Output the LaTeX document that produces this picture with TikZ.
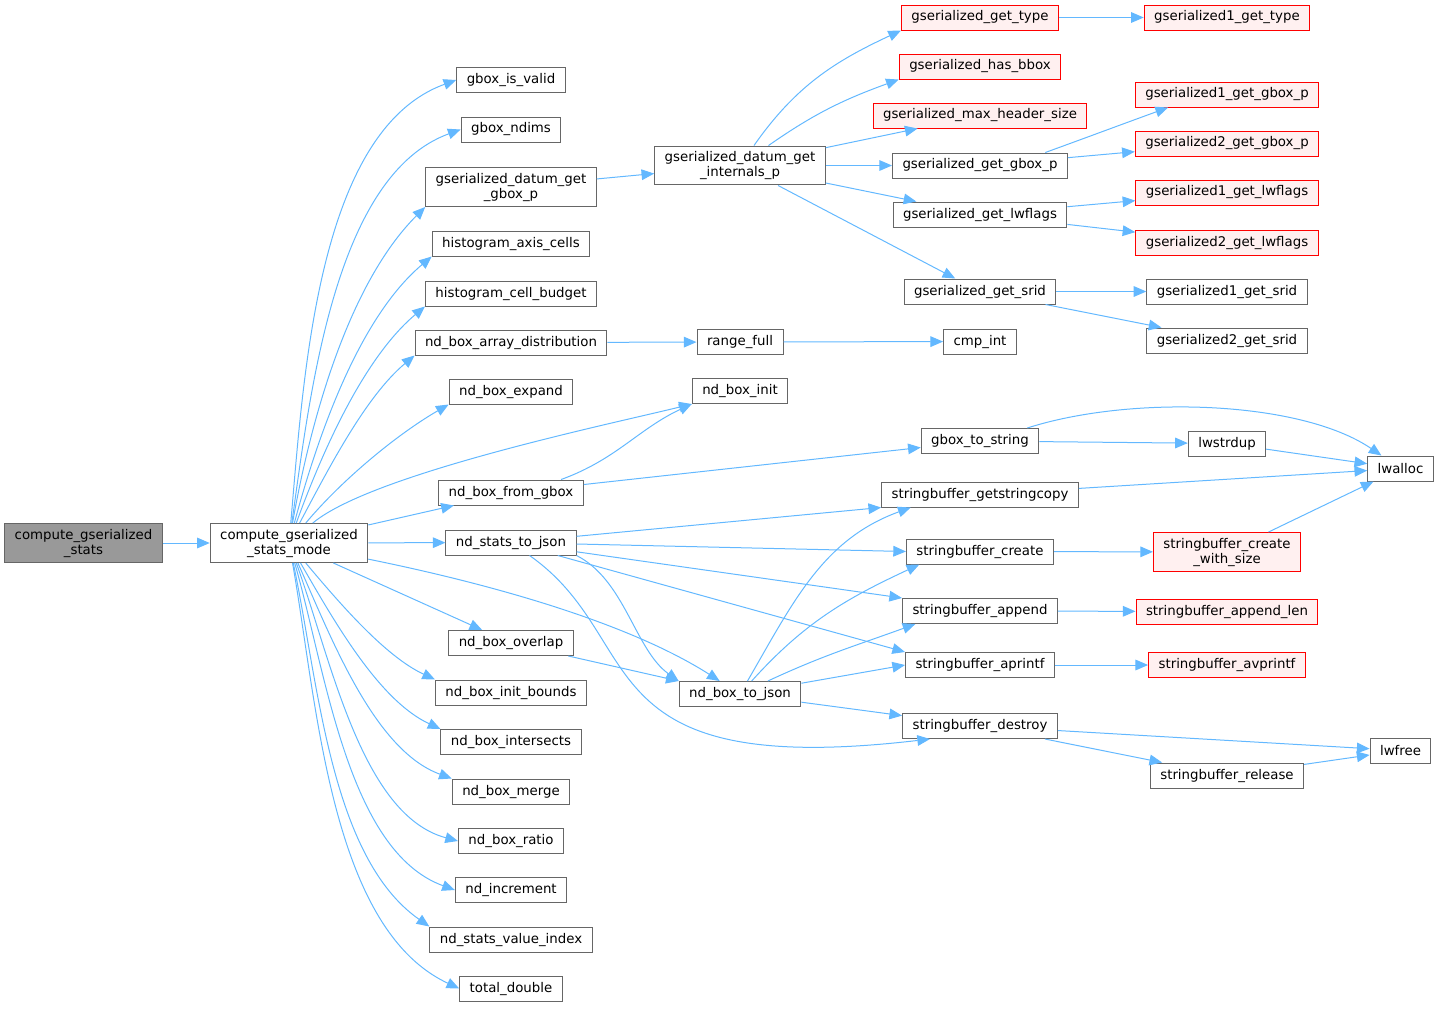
\documentclass[tikz,border=0pt]{standalone}
\usepackage{fontspec}
\setmainfont{DejaVu Sans}
\usepackage{xcolor}
\usepackage{tikz}
\usetikzlibrary{positioning, arrows.meta}

\definecolor{callblue}{HTML}{63B8FF}
\definecolor{boxgray}{HTML}{666666}
\definecolor{rootgray}{HTML}{999999}
\definecolor{missfill}{HTML}{FFF0F0}

\begin{document}
\begin{tikzpicture}[x=0.75pt, y=0.75pt,
    fn/.style={draw=boxgray, fill=white, line width=0.75pt, font=\fontsize{10}{11.25}\selectfont, align=center, inner xsep=7.5pt, inner ysep=4pt, minimum height=18.75pt},
    fnred/.style={fn, draw=red, fill=missfill},
    fnroot/.style={fn, fill=rootgray},
    call/.style={draw=callblue, line width=0.75pt, -{Triangle[length=9.5pt, width=8pt]}}]
          \useasboundingbox (0, 0) rectangle (1440, -1008);

          \node[fnroot] (root) at (83.5, -543) {compute\_gserialized\\\_stats};
          \node[fn] (mode) at (289, -543) {compute\_gserialized\\\_stats\_mode};

          \node[fn] (valid) at (511, -80) {gbox\_is\_valid};
          \node[fn] (ndims) at (511, -129.5) {gbox\_ndims};
          \node[fn] (datumgbox) at (511, -187) {gserialized\_datum\_get\\\_gbox\_p};
          \node[fn] (axiscells) at (511, -243.5) {histogram\_axis\_cells};
          \node[fn] (cellbudget) at (511, -293.5) {histogram\_cell\_budget};
          \node[fn] (arraydist) at (511, -342.5) {nd\_box\_array\_distribution};
          \node[fn] (expand) at (511, -391.5) {nd\_box\_expand};
          \node[fn] (fromgbox) at (511, -492.5) {nd\_box\_from\_gbox};
          \node[fn] (tojson) at (511, -542.5) {nd\_stats\_to\_json};
          \node[fn] (overlap) at (511, -643) {nd\_box\_overlap};
          \node[fn] (initbounds) at (511, -692.5) {nd\_box\_init\_bounds};
          \node[fn] (intersects) at (511, -742) {nd\_box\_intersects};
          \node[fn] (merge) at (511, -791.5) {nd\_box\_merge};
          \node[fn] (ratio) at (511, -841) {nd\_box\_ratio};
          \node[fn] (increment) at (511, -890) {nd\_increment};
          \node[fn] (valueindex) at (511, -939.5) {nd\_stats\_value\_index};
          \node[fn] (totaldouble) at (511, -988.5) {total\_double};

          \node[fn] (internals) at (740, -165.5) {gserialized\_datum\_get\\\_internals\_p};
          \node[fn] (rangefull) at (740, -342) {range\_full};
          \node[fn] (boxinit) at (740, -391) {nd\_box\_init};
          \node[fn] (boxtojson) at (740, -694) {nd\_box\_to\_json};

          \node[fnred] (gettype) at (980, -17.5) {gserialized\_get\_type};
          \node[fnred] (hasbbox) at (980, -66.5) {gserialized\_has\_bbox};
          \node[fnred] (maxheader) at (980, -115.5) {gserialized\_max\_header\_size};
          \node[fn] (getgbox) at (980, -165.5) {gserialized\_get\_gbox\_p};
          \node[fn] (getlwflags) at (980, -214.5) {gserialized\_get\_lwflags};
          \node[fn] (getsrid) at (980, -291.5) {gserialized\_get\_srid};
          \node[fn] (cmpint) at (980, -341.5) {cmp\_int};
          \node[fn] (tostring) at (980, -441) {gbox\_to\_string};
          \node[fn] (stringcopy) at (980, -494.5) {stringbuffer\_getstringcopy};
          \node[fn] (sbcreate) at (980, -551.5) {stringbuffer\_create};
          \node[fn] (sbappend) at (980, -611) {stringbuffer\_append};
          \node[fn] (sbaprintf) at (980, -665) {stringbuffer\_aprintf};
          \node[fn] (sbdestroy) at (980, -726) {stringbuffer\_destroy};

          \node[fnred] (g1type) at (1227, -17.5) {gserialized1\_get\_type};
          \node[fnred] (g1gbox) at (1227, -94.5) {gserialized1\_get\_gbox\_p};
          \node[fnred] (g2gbox) at (1227, -143.5) {gserialized2\_get\_gbox\_p};
          \node[fnred] (g1lwflags) at (1227, -192.5) {gserialized1\_get\_lwflags};
          \node[fnred] (g2lwflags) at (1227, -242.5) {gserialized2\_get\_lwflags};
          \node[fn] (g1srid) at (1227, -291.5) {gserialized1\_get\_srid};
          \node[fn] (g2srid) at (1227, -340.5) {gserialized2\_get\_srid};
          \node[fn] (lwstrdup) at (1227, -443.5) {lwstrdup};
          \node[fnred] (withsize) at (1227, -552) {stringbuffer\_create\\\_with\_size};
          \node[fnred] (appendlen) at (1227, -611.5) {stringbuffer\_append\_len};
          \node[fnred] (avprintf) at (1227, -665) {stringbuffer\_avprintf};
          \node[fn] (sbrelease) at (1227, -775.5) {stringbuffer\_release};

          \node[fn] (lwalloc) at (1400.5, -468.5) {lwalloc};
          \node[fn] (lwfree) at (1400.5, -750.5) {lwfree};

          \draw[call] (root) -- (mode);

          % calls made by compute_gserialized_stats_mode
          \draw[call] (mode) to[out=85, in=200, looseness=0.8] (valid.west);
          \draw[call] (mode) to[out=82, in=200, looseness=0.8] (ndims.west);
          \draw[call] (mode) to[out=80, in=225, looseness=0.8] (datumgbox.south west);
          \draw[call] (mode) to[out=75, in=220, looseness=0.8] (axiscells.south west);
          \draw[call] (mode) to[out=70, in=220, looseness=0.8] (cellbudget.south west);
          \draw[call] (mode) to[out=62, in=220, looseness=0.8] (arraydist.south west);
          \draw[call] (mode) to[out=50, in=210, looseness=0.8] (expand.south west);
          \draw[call] (mode) to[out=40, in=194, looseness=0.5] (boxinit.south west);
          \draw[call] (mode) -- (fromgbox);
          \draw[call] (mode) -- (tojson);
          \draw[call] (mode) .. controls (520, -590) and (640, -630) .. (boxtojson);
          \draw[call] (mode) -- (overlap);
          \draw[call] (mode) to[out=-50, in=155, looseness=0.8] (initbounds.north west);
          \draw[call] (mode) to[out=-60, in=155, looseness=0.8] (intersects.north west);
          \draw[call] (mode) to[out=-66, in=160, looseness=0.8] (merge.north west);
          \draw[call] (mode) to[out=-70, in=165, looseness=0.8] (ratio.west);
          \draw[call] (mode) to[out=-74, in=160, looseness=0.8] (increment.west);
          \draw[call] (mode) to[out=-78, in=145, looseness=0.8] (valueindex.north west);
          \draw[call] (mode) to[out=-80, in=155, looseness=0.8] (totaldouble.west);

          \draw[call] (datumgbox) -- (internals);
          \draw[call] (arraydist) -- (rangefull);
          \draw[call] (rangefull) -- (cmpint);
          \draw[call] ([xshift=-17pt]fromgbox.north east) to[out=20, in=205] (boxinit.south west);
          \draw[call] (fromgbox) -- (tostring);

          \draw[call] (tojson) -- (stringcopy.south west);
          \draw[call] (tojson) -- (sbcreate.west);
          \draw[call] (tojson) -- (sbappend.north west);
          \draw[call] (tojson) -- (sbaprintf.north west);
          \draw[call] (tojson.south east) .. controls (625, -580) and (635, -650) .. (boxtojson.north west);
          \draw[call] (tojson) .. controls (650, -640) and (580, -780) .. ([xshift=-37.5pt]sbdestroy.south);
          \draw[call] (overlap) -- (boxtojson.north west);

          \draw[call] (boxtojson) to[out=60, in=200] ([xshift=-52pt]stringcopy.south);
          \draw[call] (boxtojson) to[out=48, in=205] ([xshift=10pt]sbcreate.south west);
          \draw[call] (boxtojson) to[out=25, in=200] ([xshift=10pt]sbappend.south west);
          \draw[call] (boxtojson) -- (sbaprintf.west);
          \draw[call] (boxtojson) -- (sbdestroy);

          \draw[call] (internals) to[out=55, in=205] (gettype.south west);
          \draw[call] (internals) to[out=35, in=200] (hasbbox.south west);
          \draw[call] (internals) -- (maxheader);
          \draw[call] (internals) -- (getgbox);
          \draw[call] (internals) -- (getlwflags);
          \draw[call] (internals) -- (getsrid);

          \draw[call] (gettype) -- (g1type);
          \draw[call] ([xshift=-17pt]getgbox.north east) to[out=20, in=200] ([xshift=25pt]g1gbox.south west);
          \draw[call] (getgbox) -- (g2gbox);
          \draw[call] (getlwflags) -- (g1lwflags);
          \draw[call] (getlwflags) -- (g2lwflags);
          \draw[call] (getsrid) -- (g1srid);
          \draw[call] (getsrid) -- (g2srid);

          \draw[call] (tostring) -- (lwstrdup);
          \draw[call] ([xshift=-9pt]tostring.north east) .. controls (1130, -395) and (1300, -400) .. (lwalloc);
          \draw[call] (lwstrdup) -- (lwalloc);
          \draw[call] (stringcopy) -- (lwalloc);
          \draw[call] (sbcreate) -- (withsize);
          \draw[call] (withsize) -- (lwalloc);
          \draw[call] (sbappend) -- (appendlen);
          \draw[call] (sbaprintf) -- (avprintf);
          \draw[call] (sbdestroy) -- (lwfree);
          \draw[call] (sbdestroy) -- (sbrelease);
          \draw[call] (sbrelease) -- (lwfree);
        \end{tikzpicture}
\end{document}
